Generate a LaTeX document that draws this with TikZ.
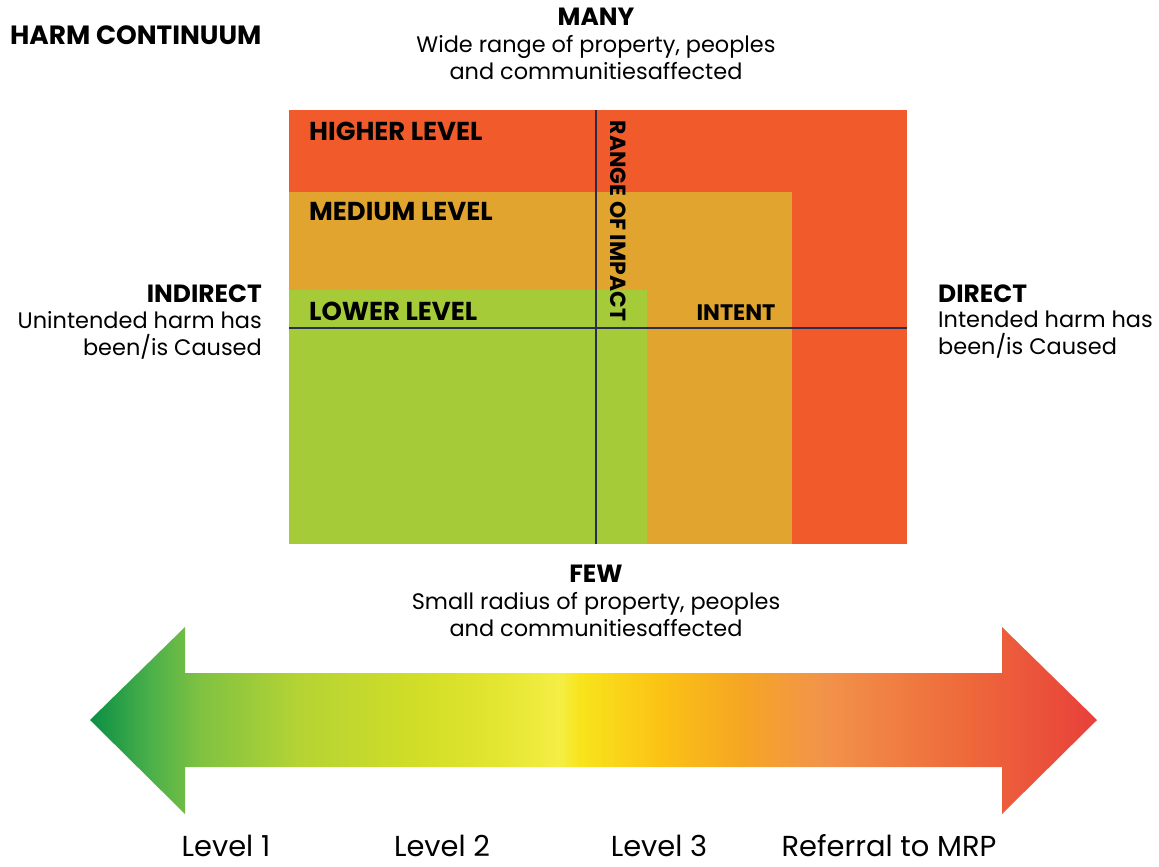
\documentclass[tikz,border=0pt]{standalone}
\usepackage{fontspec}
\setmainfont{Poppins}
\usetikzlibrary{positioning}
\definecolor{highred}{HTML}{F15A2B}
\definecolor{medorange}{HTML}{E1A52F}
\definecolor{lowgreen}{HTML}{A5CB39}
\definecolor{axisnavy}{HTML}{2B2D4F}
\definecolor{ga}{HTML}{0B8F45}
\definecolor{gb}{HTML}{4BB04A}
\definecolor{gc}{HTML}{80C241}
\definecolor{gd}{HTML}{B5D334}
\definecolor{ge}{HTML}{D2DE27}
\definecolor{gf}{HTML}{E4E631}
\definecolor{gg}{HTML}{F4EE45}
\definecolor{gh}{HTML}{F8E41C}
\definecolor{gi}{HTML}{FBC315}
\definecolor{gj}{HTML}{F5A623}
\definecolor{gk}{HTML}{F2944A}
\definecolor{gl}{HTML}{EE6B3B}
\definecolor{gm}{HTML}{E8403A}
\pgfdeclarehorizontalshading{harmshade}{100bp}{color(0bp)=(ga); color(25bp)=(ga);
  color(28bp)=(gb); color(30.5bp)=(gc); color(35.4bp)=(gd); color(41.4bp)=(ge);
  color(45.4bp)=(gf); color(48.3bp)=(gg); color(49.3bp)=(gh); color(53.3bp)=(gi);
  color(57.3bp)=(gj); color(61.2bp)=(gk); color(68.2bp)=(gl); color(75bp)=(gm);
  color(100bp)=(gm)}
\begin{document}
\begin{tikzpicture}[x=1bp,y=-1bp,
  headtext/.style={font=\fontsize{25}{28}\selectfont\bfseries,inner sep=0pt},
  boxtext/.style={font=\fontsize{26}{28}\selectfont\bfseries,inner sep=0pt,anchor=west},
  bodytext/.style={font=\fontsize{22.5}{27}\selectfont,inner sep=0pt,align=center},
  leveltext/.style={font=\fontsize{29}{32}\selectfont,inner sep=0pt}]
\useasboundingbox (0,0) rectangle (1159,867);
% the three levels
\fill[highred] (289,110) rectangle (907,544);
\fill[medorange] (289,192) rectangle (792,544);
\fill[lowgreen] (289,290) rectangle (647,544);
\draw[axisnavy,line width=1.3bp] (596,110) -- (596,544);
\draw[axisnavy,line width=1.3bp] (289,328) -- (907,328);
\node[headtext,anchor=west,font=\fontsize{26.5}{28}\selectfont\bfseries] (title) at (10,35) {HARM CONTINUUM};
\node[boxtext] (higher) at (309,131) {HIGHER LEVEL};
\node[boxtext] (medium) at (309,211) {MEDIUM LEVEL};
\node[boxtext] (lower) at (309,311) {LOWER LEVEL};
\node[boxtext,anchor=center,font=\fontsize{22.5}{26}\selectfont\bfseries] (intent) at (736,313) {INTENT};
\node[boxtext,anchor=center,rotate=-90,font=\fontsize{22}{26}\selectfont\bfseries] (range) at (618,221) {RANGE OF IMPACT};
% axis ends
\node[headtext] (many) at (596,17) {MANY};
\node[bodytext,anchor=north] (manytxt) at (596,35) {Wide range of property, peoples\\and communitiesaffected};
\node[headtext] (few) at (596,574) {FEW};
\node[bodytext,anchor=north] (fewtxt) at (596,592) {Small radius of property, peoples\\and communitiesaffected};
\node[headtext,anchor=east] (indirect) at (262,294) {INDIRECT};
\node[bodytext,align=right,anchor=north east] (indtxt) at (262,311) {Unintended harm has\\been/is Caused};
\node[headtext,anchor=west] (direct) at (938,294) {DIRECT};
\node[bodytext,align=left,anchor=north west] (dirtxt) at (938,311) {Intended harm has\\been/is Caused};
% the scale arrow
\shade[shading=harmshade] (90,720) -- (185,627) -- (185,673) -- (1002,673) -- (1002,627)
  -- (1097,720) -- (1002,814) -- (1002,767) -- (185,767) -- (185,814) -- cycle;
\node[leveltext] (lvla) at (226,846) {Level 1};
\node[leveltext] (lvlb) at (442,846) {Level 2};
\node[leveltext] (lvlc) at (659,846) {Level 3};
\node[leveltext] (lvld) at (889,846) {Referral to MRP};
\end{tikzpicture}
\end{document}
